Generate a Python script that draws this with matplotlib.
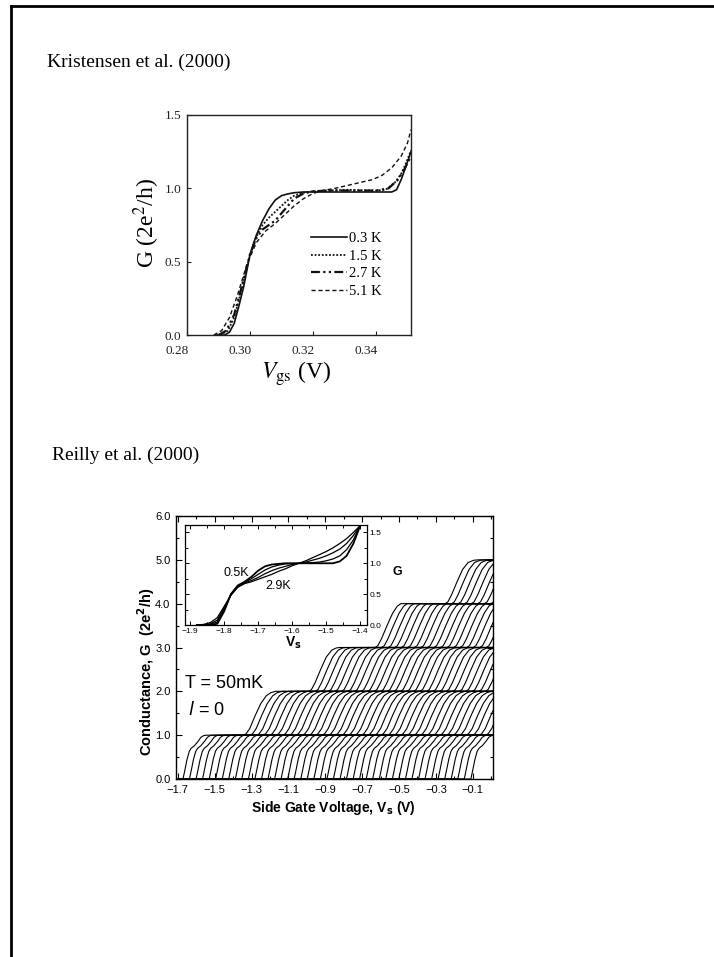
import matplotlib
matplotlib.use("Agg")
import matplotlib.pyplot as plt
from matplotlib.lines import Line2D
from matplotlib.transforms import ScaledTranslation
import numpy as np

# ---------------- data: Kristensen et al. (2000) ----------------
k_labels = ["0.3 K", "1.5 K", "2.7 K", "5.1 K"]
v_03K = [0.2890, 0.2920, 0.2935, 0.2950, 0.2965, 0.2980, 0.3000, 0.3020, 0.3040,
         0.3060, 0.3080, 0.3100, 0.3120, 0.3140, 0.3170, 0.3200, 0.3300, 0.3400,
         0.3450, 0.3465, 0.3480, 0.3495, 0.3511]
g_03K = [0.0, 0.0, 0.02, 0.08, 0.20, 0.33, 0.55, 0.68, 0.78, 0.86, 0.92, 0.95,
         0.962, 0.97, 0.975, 0.975, 0.975, 0.975, 0.975, 0.99, 1.06, 1.15, 1.25]
v_15K = [0.2905, 0.2930, 0.2950, 0.2970, 0.3000, 0.3020, 0.3040, 0.3060, 0.3080,
         0.3100, 0.3120, 0.3140, 0.3170, 0.3200, 0.3300, 0.3400, 0.3430, 0.3460,
         0.3480, 0.3495, 0.3511]
g_15K = [0.0, 0.03, 0.12, 0.28, 0.55, 0.67, 0.75, 0.80, 0.84, 0.88, 0.92, 0.95,
         0.97, 0.98, 0.99, 0.985, 0.99, 1.04, 1.10, 1.17, 1.26]
v_27K = [0.2900, 0.2925, 0.2950, 0.2970, 0.3000, 0.3020, 0.3040, 0.3060, 0.3080,
         0.3100, 0.3120, 0.3140, 0.3170, 0.3200, 0.3250, 0.3300, 0.3350, 0.3400,
         0.3440, 0.3470, 0.3490, 0.3511]
g_27K = [0.0, 0.03, 0.14, 0.30, 0.55, 0.66, 0.72, 0.75, 0.78, 0.83, 0.88, 0.93,
         0.965, 0.98, 0.985, 0.985, 0.985, 0.985, 1.0, 1.06, 1.13, 1.22]
v_51K = [0.2885, 0.2910, 0.2935, 0.2960, 0.2990, 0.3020, 0.3050, 0.3080, 0.3110,
         0.3140, 0.3170, 0.3200, 0.3230, 0.3270, 0.3310, 0.3350, 0.3390, 0.3420,
         0.3450, 0.3480, 0.3500, 0.3511]
g_51K = [0.0, 0.03, 0.12, 0.27, 0.48, 0.63, 0.71, 0.76, 0.82, 0.88, 0.93, 0.965,
         0.985, 1.0, 1.02, 1.04, 1.06, 1.09, 1.14, 1.22, 1.31, 1.40]
k_xticks = [0.28, 0.30, 0.32, 0.34]
k_yticks = [0.0, 0.5, 1.0, 1.5]

# ---------------- data: Reilly et al. (2000) ----------------
# one staircase trace (leftmost); the others are the same trace offset in V_s
step_v = [-1.800, -1.672, -1.662, -1.650, -1.638, -1.628, -1.610, -1.590, -1.575,
          -1.560, -1.545, -1.345, -1.330, -1.310, -1.280, -1.250, -1.220, -1.195,
          -1.170, -0.990, -0.975, -0.955, -0.925, -0.895, -0.865, -0.840, -0.820,
          -0.630, -0.615, -0.595, -0.565, -0.535, -0.510, -0.490, -0.250, -0.235,
          -0.215, -0.185, -0.155, -0.125, -0.095, -0.070, 0.200]
step_g = [0.0, 0.0, 0.20, 0.45, 0.63, 0.70, 0.76, 0.86, 0.95,
          0.99, 1.0, 1.0, 1.03, 1.15, 1.45, 1.72, 1.90, 1.97,
          2.0, 2.0, 2.04, 2.20, 2.50, 2.78, 2.94, 2.99, 3.0,
          3.0, 3.04, 3.20, 3.50, 3.78, 3.94, 4.0, 4.0, 4.04,
          4.20, 4.50, 4.78, 4.94, 4.99, 5.0, 5.0]
trace_offsets = [0.000, 0.035, 0.071, 0.106, 0.142, 0.177, 0.213, 0.248, 0.284,
                 0.319, 0.355, 0.390, 0.426, 0.461, 0.497, 0.532, 0.568, 0.603,
                 0.639, 0.674, 0.710, 0.745, 0.781, 0.816, 0.852, 0.887, 0.923,
                 0.958, 0.994, 1.029, 1.065, 1.100, 1.136, 1.171, 1.207, 1.242,
                 1.278, 1.313, 1.349, 1.384, 1.420, 1.455, 1.491, 1.526, 1.562]
r_xticks = [-1.7, -1.5, -1.3, -1.1, -0.9, -0.7, -0.5, -0.3, -0.1]
r_yticks = [0, 1, 2, 3, 4, 5, 6]

# inset: temperature dependence of the first step
inset_v = [-1.88, -1.86, -1.84, -1.82, -1.80, -1.78, -1.76, -1.74, -1.72, -1.70,
           -1.68, -1.66, -1.64, -1.62, -1.60, -1.58, -1.56, -1.54, -1.52, -1.50,
           -1.48, -1.46, -1.44, -1.42, -1.40]
inset_g_05K = [0, 0, 0, 0.02, 0.22, 0.50, 0.64, 0.70, 0.78, 0.88, 0.95, 0.98, 0.99,
               1.0, 1.0, 1.0, 1.0, 1.0, 1.0, 1.0, 1.0, 1.03, 1.12, 1.32, 1.61]
inset_g_12K = [0, 0, 0.01, 0.05, 0.25, 0.50, 0.63, 0.69, 0.75, 0.82, 0.89, 0.94, 0.97,
               0.99, 0.995, 1.0, 1.005, 1.01, 1.02, 1.04, 1.07, 1.12, 1.22, 1.38, 1.61]
inset_g_20K = [0, 0, 0.02, 0.08, 0.28, 0.49, 0.62, 0.68, 0.72, 0.77, 0.83, 0.88, 0.92,
               0.95, 0.98, 1.0, 1.02, 1.05, 1.08, 1.12, 1.17, 1.23, 1.32, 1.45, 1.61]
inset_g_29K = [0, 0.01, 0.04, 0.12, 0.30, 0.48, 0.61, 0.67, 0.70, 0.74, 0.78, 0.82, 0.87,
               0.91, 0.96, 1.0, 1.04, 1.09, 1.14, 1.19, 1.25, 1.32, 1.40, 1.50, 1.61]
inset_xticks = [-1.9, -1.8, -1.7, -1.6, -1.5, -1.4]
inset_yticks = [0.0, 0.5, 1.0, 1.5]

# ---------------- figure ----------------
W, H = 714, 957
fig = plt.figure(figsize=(W / 100, H / 100), dpi=100)
SERIF = "Liberation Serif"
SANS = "Liberation Sans"


def axes_px(left, top, right, bottom):
    return fig.add_axes([left / W, 1 - bottom / H, (right - left) / W, (bottom - top) / H])


def fx(x):
    return x / W


def fy(y):
    return 1 - y / H


# page frame
fig.add_artist(Line2D([fx(10.5), fx(10.5)], [0, fy(5.5)], transform=fig.transFigure,
                      color="black", lw=2.0))
fig.add_artist(Line2D([fx(10.5), 1.0], [fy(5.5), fy(5.5)], transform=fig.transFigure,
                      color="black", lw=2.0))

fig.text(fx(47), fy(62), "Kristensen et al. (2000)", family=SERIF, fontsize=14,
         va="center", ha="left")
fig.text(fx(52), fy(455), "Reilly et al. (2000)", family=SERIF, fontsize=14,
         va="center", ha="left")

# ---- upper panel ----
ax1 = axes_px(187, 115, 411, 335)
ax1.plot(v_03K, g_03K, color="#111111", lw=1.2, ls="-", label=k_labels[0])
ax1.plot(v_15K, g_15K, color="#111111", lw=1.3, ls=(0, (1, 1)), label=k_labels[1])
ax1.plot(v_27K, g_27K, color="#111111", lw=1.6, ls=(0, (4, 1.5, 1, 1.5, 1, 1.5)),
         label=k_labels[2])
ax1.plot(v_51K, g_51K, color="#111111", lw=1.0, ls=(0, (3, 2)), label=k_labels[3])
ax1.set_xlim(0.28, 0.3511)
ax1.set_ylim(0.0, 1.5)
ax1.set_xticks(k_xticks)
ax1.set_xticklabels([f"{t:.2f}" for t in k_xticks])
ax1.set_yticks(k_yticks)
ax1.set_yticklabels([f"{t:.1f}" for t in k_yticks])
ax1.tick_params(direction="in", length=3, width=0.8, labelsize=9.5, colors="#222222")
ax1.tick_params(axis="x", pad=7)
ax1.tick_params(axis="y", pad=4)
for lab in ax1.get_xticklabels() + ax1.get_yticklabels():
    lab.set_family(SERIF)
for lab in ax1.get_xticklabels():
    lab.set_transform(lab.get_transform() + ScaledTranslation(-0.10, 0, fig.dpi_scale_trans))
for s in ax1.spines.values():
    s.set_linewidth(1.0)
    s.set_color("#222222")
ax1.legend(loc="upper left", bbox_to_anchor=(0.555, 0.468), frameon=False,
           prop={"family": SERIF, "size": 10.5}, handlelength=2.45, handletextpad=0.15,
           labelspacing=0.30, borderpad=0, borderaxespad=0)
fig.text(fx(147), fy(223), r"G (2e$^2$/h)", family=SERIF, fontsize=17, rotation=90,
         va="center", ha="center", math_fontfamily="stix")
fig.text(fx(296), fy(374), r"$V_{\rm gs}$ (V)", family=SERIF, fontsize=17,
         va="center", ha="center", math_fontfamily="stix")

# ---- lower panel ----
ax2 = axes_px(176, 516, 493, 779)
for off in trace_offsets:
    ax2.plot(np.asarray(step_v) + off, step_g, color="black", lw=0.8)
ax2.set_xlim(-1.71, 0.01)
ax2.set_ylim(0.0, 6.0)
ax2.set_xticks(r_xticks)
ax2.set_xticklabels([f"{t:.1f}".replace("-", "\u2212") for t in r_xticks])
ax2.set_xticks([-1.6, -1.4, -1.2, -1.0, -0.8, -0.6, -0.4, -0.2, 0.0], minor=True)
ax2.set_yticks(r_yticks)
ax2.set_yticklabels([f"{t:.1f}" for t in r_yticks])
ax2.set_yticks([0.5, 1.5, 2.5, 3.5, 4.5, 5.5], minor=True)
ax2.tick_params(which="both", direction="in", top=True, right=True, width=0.8,
                labelsize=8, pad=4)
ax2.tick_params(which="major", length=4)
ax2.tick_params(which="minor", length=2.5)
for lab in ax2.get_xticklabels() + ax2.get_yticklabels():
    lab.set_family(SANS)
for s in ax2.spines.values():
    s.set_linewidth(1.0)
fig.text(fx(146), fy(672), r"Conductance, G  (2e$^\mathbf{2}$/h)", family=SANS,
         fontweight="bold", fontsize=10.5, rotation=90, va="center", ha="center",
         math_fontfamily="dejavusans")
fig.text(fx(333), fy(808), r"Side Gate Voltage, V$_\mathbf{s}$ (V)", family=SANS,
         fontweight="bold", fontsize=10, va="center", ha="center",
         math_fontfamily="dejavusans")
fig.text(fx(185), fy(683), "T = 50mK", family=SANS, fontsize=13, va="center", ha="left")
fig.text(fx(188), fy(710), r"$\mathit{l}$ = 0", family=SANS, fontsize=13, va="center",
         ha="left", math_fontfamily="dejavusans")

# ---- inset ----
ax3 = axes_px(185, 525, 367, 625)
ax3.set_facecolor("white")
for g, lw in [(inset_g_29K, 0.9), (inset_g_20K, 0.9), (inset_g_12K, 0.9),
              (inset_g_05K, 1.3)]:
    ax3.plot(inset_v, g, color="black", lw=lw)
ax3.set_xlim(-1.915, -1.38)
ax3.set_ylim(0.0, 1.62)
ax3.set_xticks(inset_xticks)
ax3.set_xticklabels([f"{t:.1f}".replace("-", "\u2212") for t in inset_xticks])
ax3.set_xticks([-1.85, -1.75, -1.65, -1.55, -1.45], minor=True)
ax3.set_yticks(inset_yticks)
ax3.set_yticklabels([f"{t:.1f}" for t in inset_yticks])
ax3.set_yticks([0.25, 0.75, 1.25], minor=True)
ax3.yaxis.tick_right()
ax3.tick_params(which="both", direction="in", top=True, left=True, right=True,
                labelleft=False, labelright=True, width=0.7, labelsize=6, pad=2)
ax3.tick_params(which="major", length=3)
ax3.tick_params(which="minor", length=2)
for lab in ax3.get_xticklabels() + ax3.get_yticklabels():
    lab.set_family(SANS)
for s in ax3.spines.values():
    s.set_linewidth(0.9)
ax3.text(-1.765, 0.84, "0.5K", family=SANS, fontsize=9, ha="center", va="center")
ax3.text(-1.64, 0.635, "2.9K", family=SANS, fontsize=9, ha="center", va="center")
fig.text(fx(397), fy(572), "G", family=SANS, fontweight="bold", fontsize=9,
         ha="center", va="center")
fig.text(fx(293), fy(643), r"V$_\mathbf{s}$", family=SANS, fontweight="bold",
         fontsize=10, ha="center", va="center", math_fontfamily="dejavusans")

fig.savefig("out.png", dpi=100, facecolor="white")
